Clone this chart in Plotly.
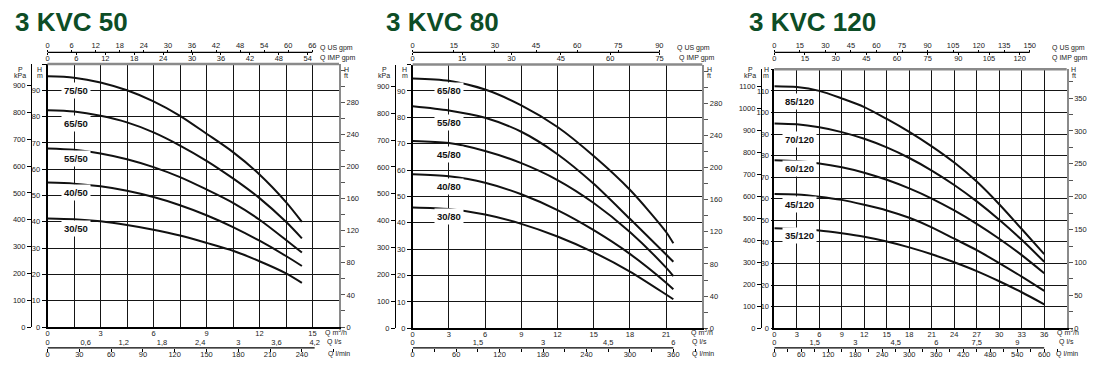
import plotly.graph_objects as go

# ---------------- data ----------------
# 3 KVC 50   (Q in m3/h, H in m)
kvc50_q = [0, 1.5, 3, 4.5, 6, 7.5, 9, 10.5, 12, 13.5, 14.4]
kvc50_75 = [95.3, 94.8, 93.0, 90.0, 85.8, 80.3, 73.5, 66.5, 58.0, 47.5, 40.0]
kvc50_65 = [82.4, 81.9, 80.3, 77.8, 74.0, 69.0, 63.2, 56.5, 49.0, 40.0, 33.7]
kvc50_55 = [67.9, 67.4, 66.0, 63.8, 60.8, 57.0, 52.3, 47.2, 40.8, 33.1, 28.3]
kvc50_40 = [54.9, 54.5, 53.5, 51.8, 49.4, 46.3, 42.5, 38.0, 32.8, 27.0, 23.2]
kvc50_30 = [41.3, 41.0, 40.2, 38.8, 37.0, 34.8, 32.0, 29.0, 25.0, 20.4, 16.8]
kvc50_names = ["75/50", "65/50", "55/50", "40/50", "30/50"]
kvc50_label_h = [90, 77.5, 64, 51, 37.5]

# 3 KVC 80
kvc80_q = [0, 3, 6, 9, 12, 15, 18, 21, 21.6]
kvc80_65 = [94.7, 93.8, 90.5, 84.5, 76.3, 65.3, 52.5, 36.5, 32.2]
kvc80_55 = [84.2, 82.6, 79.8, 74.5, 66.0, 54.8, 41.5, 28.0, 25.2]
kvc80_45 = [71.0, 70.2, 67.2, 62.6, 56.2, 47.5, 36.5, 23.0, 19.8]
kvc80_40 = [58.4, 57.6, 55.2, 50.8, 44.8, 37.2, 28.2, 17.3, 14.8]
kvc80_30 = [45.8, 45.2, 43.1, 39.6, 34.8, 28.8, 21.5, 12.8, 11.0]
kvc80_names = ["65/80", "55/80", "45/80", "40/80", "30/80"]
kvc80_label_h = [90, 78, 66, 53.6, 42.3]

# 3 KVC 120
kvc120_q = [0, 3, 6, 9, 12, 15, 18, 21, 24, 27, 30, 33, 36]
kvc120_85 = [112.2, 111.8, 110.0, 106.5, 102.5, 97.0, 91.0, 84.3, 76.8, 68.0, 57.5, 46.0, 34.4]
kvc120_70 = [94.9, 94.5, 93.1, 90.9, 87.8, 83.8, 78.9, 73.1, 66.4, 58.8, 50.3, 41.0, 30.8]
kvc120_60 = [77.9, 77.5, 76.4, 74.6, 72.1, 68.8, 64.8, 60.1, 54.6, 48.4, 41.5, 33.9, 25.5]
kvc120_45 = [62.2, 62.0, 61.0, 59.5, 57.2, 54.6, 51.2, 46.8, 41.5, 36.2, 30.2, 23.9, 17.3]
kvc120_35 = [46.3, 46.0, 45.3, 44.0, 42.4, 40.2, 37.5, 34.3, 30.6, 26.5, 21.8, 16.7, 11.1]
kvc120_names = ["85/120", "70/120", "60/120", "45/120", "35/120"]
kvc120_label_h = [104.9, 87.5, 74, 57.4, 42.9]

titles = ["3 KVC 50", "3 KVC 80", "3 KVC 120"]

# tick label sets
m3h_ticks = [[0, 3, 6, 9, 12, 15], [0, 3, 6, 9, 12, 15, 18, 21], [0, 3, 6, 9, 12, 15, 18, 21, 24, 27, 30, 33, 36]]
ls_ticks = [[0, 0.6, 1.2, 1.8, 2.4, 3, 3.6, 4.2], [0, 1.5, 3, 4.5, 6], [0, 1.5, 3, 4.5, 6, 7.5, 9]]
lmin_ticks = [[0, 30, 60, 90, 120, 150, 180, 210, 240], [0, 60, 120, 180, 240, 300, 360],
              [0, 60, 120, 180, 240, 300, 360, 420, 480, 540, 600]]
us_ticks = [list(range(0, 67, 6)), list(range(0, 91, 15)), list(range(0, 151, 15))]
imp_ticks = [list(range(0, 55, 6)), list(range(0, 76, 15)), list(range(0, 121, 15))]
h_ticks = [list(range(0, 91, 10)), list(range(0, 91, 10)), list(range(0, 111, 10))]
kpa_ticks = [list(range(0, 901, 100)), list(range(0, 901, 100)), list(range(0, 1101, 100))]
ft_label_ticks = [list(range(0, 281, 40)), list(range(0, 281, 40)), list(range(0, 351, 50))]

# ---------------- layout geometry (screen pixels) ----------------
OFF = 8                       # page body margin of the html page
W, H = 1100 - 2 * OFF, 377 - 2 * OFF
geo = [
    dict(x0=47.5, x1=339.0, yt=64.0, yb=327.0, qmax=16.5, qgrid=1.5, hmax=100, kpa_x=31, title_x=13,
         lab_q=1.6, ft_step=20, hticklen=4, us_dx=-21, imp_dx=-21, m3_dx=-16, ls_dx=-14, lmin_dx=-13),
    dict(x0=412.7, x1=702.3, yt=64.5, yb=328.3, qmax=24.0, qgrid=3.0, hmax=100, kpa_x=395, title_x=384,
         lab_q=3.0, ft_step=20, hticklen=4, us_dx=-27, imp_dx=-25, m3_dx=-13, ls_dx=-12, lmin_dx=-12),
    dict(x0=774.3, x1=1066.7, yt=69.3, yb=328.3, qmax=39.0, qgrid=3.0, hmax=120, kpa_x=761, title_x=747,
         lab_q=3.3, ft_step=25, hticklen=2, us_dx=-17, imp_dx=-17, m3_dx=-12, ls_dx=-10, lmin_dx=-13),
]
top_line_y = 52.3
bot_line_y = 347.8

curves = [
    (kvc50_q, [kvc50_75, kvc50_65, kvc50_55, kvc50_40, kvc50_30], kvc50_names, kvc50_label_h),
    (kvc80_q, [kvc80_65, kvc80_55, kvc80_45, kvc80_40, kvc80_30], kvc80_names, kvc80_label_h),
    (kvc120_q, [kvc120_85, kvc120_70, kvc120_60, kvc120_45, kvc120_35], kvc120_names, kvc120_label_h),
]

FONT = "Liberation Sans, Arial, sans-serif"
TXT = "#222"
TICKF = dict(family=FONT, size=7.5, color=TXT)
M3H_PER_USGPM = 0.2271247
M3H_PER_IMPGPM = 0.2727654
M3H_PER_LS = 3.6
M3H_PER_LMIN = 0.06
M_PER_FT = 0.3048
KPA_PER_M = 9.80665


def fx(p):
    return (p - OFF) / W


def fy(p):
    return 1 - (p - OFF) / H


def fmt(v):
    v = round(v, 3)
    s = f"{v:g}"
    return s.replace(".", ",")


def frange(a, b, s):
    out = []
    v = a
    while v <= b + 1e-9:
        out.append(round(v, 4))
        v += s
    return out


def key(kind, n):
    return f"{kind}axis" if n == 1 else f"{kind}axis{n}"


def ref(kind, n):
    return kind if n == 1 else f"{kind}{n}"


fig = go.Figure()
layout = {}
annotations = []
shapes = []

for i, g in enumerate(geo):
    xm, xls, xlmin, xus, ximp = [5 * i + k for k in range(1, 6)]
    ym, ykpa, yft = [3 * i + k for k in range(1, 4)]
    xdom = [fx(g["x0"]), fx(g["x1"])]
    ydom = [fy(g["yb"]), fy(g["yt"])]
    qmax = g["qmax"]
    hmax = g["hmax"]

    # main Q m3/h axis
    gv = frange(0, qmax, g["qgrid"])
    layout[key("x", xm)] = dict(
        domain=xdom, range=[0, qmax], anchor=ref("y", ym), automargin=False,
        tickmode="array", tickvals=gv,
        ticktext=[fmt(v) if v in m3h_ticks[i] else " " for v in gv],
        showgrid=True, gridcolor="#151515", gridwidth=1.4,
        showline=True, linecolor="#000", linewidth=1.6, zeroline=False,
        ticks="", tickfont=TICKF, ticklabelstandoff=-2,
    )
    # main H m axis
    hv = frange(0, hmax, 10)
    layout[key("y", ym)] = dict(
        domain=ydom, range=[0, hmax], anchor=ref("x", xm), automargin=False,
        tickmode="array", tickvals=hv,
        ticktext=[str(int(v)) if v in h_ticks[i] else " " for v in hv],
        showgrid=True, gridcolor="#151515", gridwidth=1.4,
        showline=True, linecolor="#000", linewidth=1.6, zeroline=False,
        ticks="outside", ticklen=g["hticklen"], tickcolor="#000", tickfont=TICKF,
    )
    # P kPa axis (free, left)
    layout[key("y", ykpa)] = dict(
        overlaying=ref("y", ym), anchor="free", position=fx(g["kpa_x"]), side="left", automargin=False,
        range=[0, hmax * KPA_PER_M], tickmode="array", tickvals=kpa_ticks[i],
        ticktext=[str(v) for v in kpa_ticks[i]],
        showgrid=False, zeroline=False, showline=True, linecolor="#000", linewidth=1.2,
        ticks="outside", ticklen=4, tickcolor="#000", tickfont=TICKF,
    )
    # H ft axis (right)
    fmax = hmax / M_PER_FT
    fv = frange(0, fmax, g["ft_step"])
    layout[key("y", yft)] = dict(
        overlaying=ref("y", ym), anchor=ref("x", xm), side="right", automargin=False,
        range=[0, fmax], tickmode="array", tickvals=fv,
        ticktext=[str(int(v)) if int(v) in ft_label_ticks[i] else " " for v in fv],
        showgrid=False, zeroline=False, showline=True, linecolor="#8a8a8a", linewidth=2,
        ticks="outside", ticklen=4, tickcolor="#555", tickfont=TICKF,
    )
    # top axes: US gpm (labels above) and IMP gpm (labels below)
    layout[key("x", xus)] = dict(
        overlaying=ref("x", xm), anchor="free", position=fy(top_line_y), side="top", automargin=False,
        range=[0, qmax / M3H_PER_USGPM], tickmode="array", tickvals=us_ticks[i],
        ticktext=[str(v) for v in us_ticks[i]],
        showgrid=False, zeroline=False, showline=False,
        ticks="outside", ticklen=2, tickcolor="#000", tickfont=TICKF, ticklabelstandoff=-1,
    )
    layout[key("x", ximp)] = dict(
        overlaying=ref("x", xm), anchor="free", position=fy(top_line_y), side="bottom", automargin=False,
        range=[0, qmax / M3H_PER_IMPGPM], tickmode="array", tickvals=imp_ticks[i],
        ticktext=[str(v) for v in imp_ticks[i]],
        showgrid=False, zeroline=False, showline=False,
        ticks="outside", ticklen=2, tickcolor="#000", tickfont=TICKF, ticklabelstandoff=-3,
    )
    # bottom axes: l/s (labels above) and l/min (labels below)
    layout[key("x", xls)] = dict(
        overlaying=ref("x", xm), anchor="free", position=fy(bot_line_y), side="top", automargin=False,
        range=[0, qmax / M3H_PER_LS], tickmode="array", tickvals=ls_ticks[i],
        ticktext=[fmt(v) for v in ls_ticks[i]],
        showgrid=False, zeroline=False, showline=False,
        ticks="", tickfont=TICKF, ticklabelstandoff=1,
    )
    lmax = qmax / M3H_PER_LMIN
    lv = frange(0, lmax, 30)
    layout[key("x", xlmin)] = dict(
        overlaying=ref("x", xm), anchor="free", position=fy(bot_line_y), side="bottom", automargin=False,
        range=[0, lmax], tickmode="array", tickvals=lv,
        ticktext=[str(int(v)) if int(v) in lmin_ticks[i] else " " for v in lv],
        showgrid=False, zeroline=False, showline=False,
        ticks="outside", ticklen=3, tickcolor="#000", tickfont=TICKF, ticklabelstandoff=-4,
    )

    # scale lines ending at the last labelled tick (in m3/h of the main axis)
    top_end = max(us_ticks[i][-1] * M3H_PER_USGPM, imp_ticks[i][-1] * M3H_PER_IMPGPM)
    bot_end = max(ls_ticks[i][-1] * M3H_PER_LS, lmin_ticks[i][-1] * M3H_PER_LMIN)
    for end, yy in [(top_end, top_line_y), (bot_end, bot_line_y)]:
        shapes.append(dict(type="line", xref=ref("x", xm), yref="paper", x0=0, x1=end,
                           y0=fy(yy), y1=fy(yy), line=dict(color="#000", width=1.2), layer="below"))

    # dummy traces so that every axis is drawn
    for xa, ya in [(xus, ym), (ximp, ym), (xls, ym), (xlmin, ym), (xm, ykpa), (xm, yft)]:
        fig.add_trace(go.Scatter(x=[None], y=[None], xaxis=ref("x", xa), yaxis=ref("y", ya),
                                 showlegend=False, hoverinfo="skip"))

    # pump curves
    q, series, names, lab_h = curves[i]
    for s, name, lh in zip(series, names, lab_h):
        fig.add_trace(go.Scatter(x=q, y=s, mode="lines", name=name,
                                 line=dict(color="#111", width=2, shape="spline", smoothing=0.8),
                                 xaxis=ref("x", xm), yaxis=ref("y", ym), showlegend=False))
        annotations.append(dict(x=g["lab_q"], y=lh, xref=ref("x", xm), yref=ref("y", ym),
                                text=f"<b>{name}</b>", showarrow=False, bgcolor="#fff", borderpad=2,
                                font=dict(family=FONT, size=9.5, color="#111")))

    # gray top border
    shapes.append(dict(type="line", xref=f"{ref('x', xm)} domain", yref=f"{ref('y', ym)} domain",
                       x0=0, x1=1, y0=1, y1=1, line=dict(color="#8a8a8a", width=2.5), layer="above"))

    # title
    annotations.append(dict(x=fx(g["title_x"]), y=fy(22), xref="paper", yref="paper", xanchor="left",
                            yanchor="middle", text=f"<b>{titles[i]}</b>", showarrow=False,
                            font=dict(family=FONT, size=26, color="#0d4d26")))

    # axis unit labels
    small = dict(family=FONT, size=7, color=TXT)
    x0, x1 = g["x0"], g["x1"]
    for txt, px, py, anc in [
        ("P", g["kpa_x"] - 11, 69.5, "center"), ("kPa", g["kpa_x"] - 11, 75.5, "center"),
        ("H", x0 - 8, 69.5, "center"), ("m", x0 - 8, 75.5, "center"),
        ("H", x1 + 7, 69.5, "center"), ("ft", x1 + 7, 75.5, "center"),
        ("Q US gpm", x1 + g["us_dx"], 47.7, "left"), ("Q IMP gpm", x1 + g["imp_dx"], 57.5, "left"),
        ("Q m<sup>3</sup>/h", x1 + g["m3_dx"], 332, "left"), ("Q l/s", x1 + g["ls_dx"], 342, "left"),
        ("Q l/min", x1 + g["lmin_dx"], 353.5, "left"),
    ]:
        annotations.append(dict(x=fx(px), y=fy(py), xref="paper", yref="paper", xanchor=anc,
                                yanchor="middle", text=txt, showarrow=False, font=small))

layout.update(
    width=W, height=H, margin=dict(l=0, r=0, t=0, b=0, autoexpand=False),
    paper_bgcolor="#fff", plot_bgcolor="#fff", showlegend=False,
    annotations=annotations, shapes=shapes,
    font=dict(family=FONT, color=TXT),
)
fig.update_layout(**layout)
fig.write_html("out.html")
